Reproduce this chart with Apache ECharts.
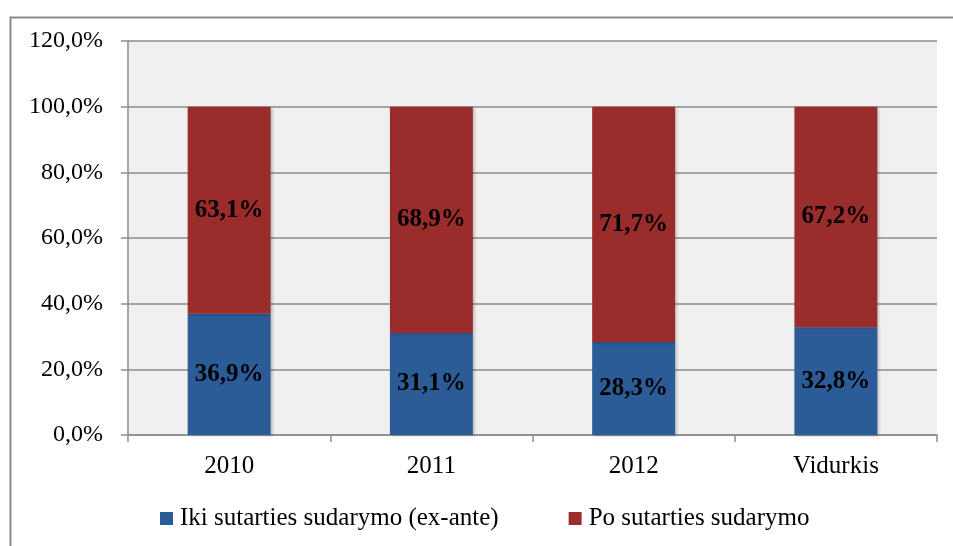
<!DOCTYPE html>
<html>
<head>
<meta charset="utf-8">
<script src="https://cdn.jsdelivr.net/npm/echarts@6/dist/echarts.min.js"></script>
<style>
  html, body { margin: 0; padding: 0; background: #fff; }
  #chart { width: 953px; height: 546px; }
</style>
</head>
<body>
<div id="chart"></div>
<script>
const categories = ['2010', '2011', '2012', 'Vidurkis']
const exAnte = [36.9, 31.1, 28.3, 32.8]
const poSutarties = [63.1, 68.9, 71.7, 67.2]
const seriesNames = ['Iki sutarties sudarymo (ex-ante)', 'Po sutarties sudarymo']

const font = '"Liberation Serif", "Times New Roman", serif'
// kablelis vietoj taško, kaip originale
const pct = (v) => v.toFixed(1).replace('.', ',') + '%'

const chart = echarts.init(document.getElementById('chart'))

const labelStyle = {
  show: true,
  position: 'inside',
  color: '#000',
  fontFamily: font,
  fontWeight: 'bold',
  fontSize: 25,
  formatter: (p) => pct(p.value)
}

const barShadow = {
  shadowBlur: 3,
  shadowOffsetX: 2,
  shadowOffsetY: 1,
  shadowColor: 'rgba(0,0,0,0.25)'
}

chart.setOption({
  animation: false,
  graphic: [
    {
      type: 'rect',
      left: 8,
      top: 15,
      shape: { width: 1000, height: 600 },
      style: { fill: 'none', stroke: '#8a8a8a', lineWidth: 2 },
      silent: true
    }
  ],
  grid: {
    left: 128,
    right: 16,
    top: 41,
    bottom: 111,
    show: true,
    backgroundColor: '#f0f0f0',
    borderWidth: 0
  },
  legend: {
    left: 160,
    top: 506,
    padding: 0,
    icon: 'rect',
    itemWidth: 13,
    itemHeight: 13,
    itemGap: 70,
    textStyle: { fontFamily: font, fontSize: 25, color: '#000', padding: [0, 0, 0, 2] },
    data: seriesNames
  },
  xAxis: {
    type: 'category',
    data: categories,
    axisLine: { show: true, lineStyle: { color: '#8c8c8c', width: 1.5 } },
    axisTick: { show: true, length: 7, lineStyle: { color: '#8c8c8c', width: 1.5 } },
    axisLabel: { fontFamily: font, fontSize: 25, color: '#000', margin: 19 }
  },
  yAxis: {
    type: 'value',
    min: 0,
    max: 120,
    interval: 20,
    axisLine: { show: true, lineStyle: { color: '#8c8c8c', width: 1.5 } },
    axisTick: { show: true, length: 7, lineStyle: { color: '#8c8c8c', width: 1.5 } },
    splitLine: { show: true, lineStyle: { color: '#8c8c8c', width: 1.5 } },
    axisLabel: {
      fontFamily: font,
      fontSize: 24,
      color: '#000',
      margin: 25,
      formatter: (v) => pct(v)
    }
  },
  series: [
    {
      name: seriesNames[0],
      type: 'bar',
      stack: 'total',
      barWidth: '41%',
      data: exAnte,
      itemStyle: Object.assign({ color: '#2c5c97' }, barShadow),
      label: labelStyle
    },
    {
      name: seriesNames[1],
      type: 'bar',
      stack: 'total',
      barWidth: '41%',
      data: poSutarties,
      itemStyle: Object.assign({ color: '#9b2c2c' }, barShadow),
      label: labelStyle
    }
  ]
})
</script>
</body>
</html>
